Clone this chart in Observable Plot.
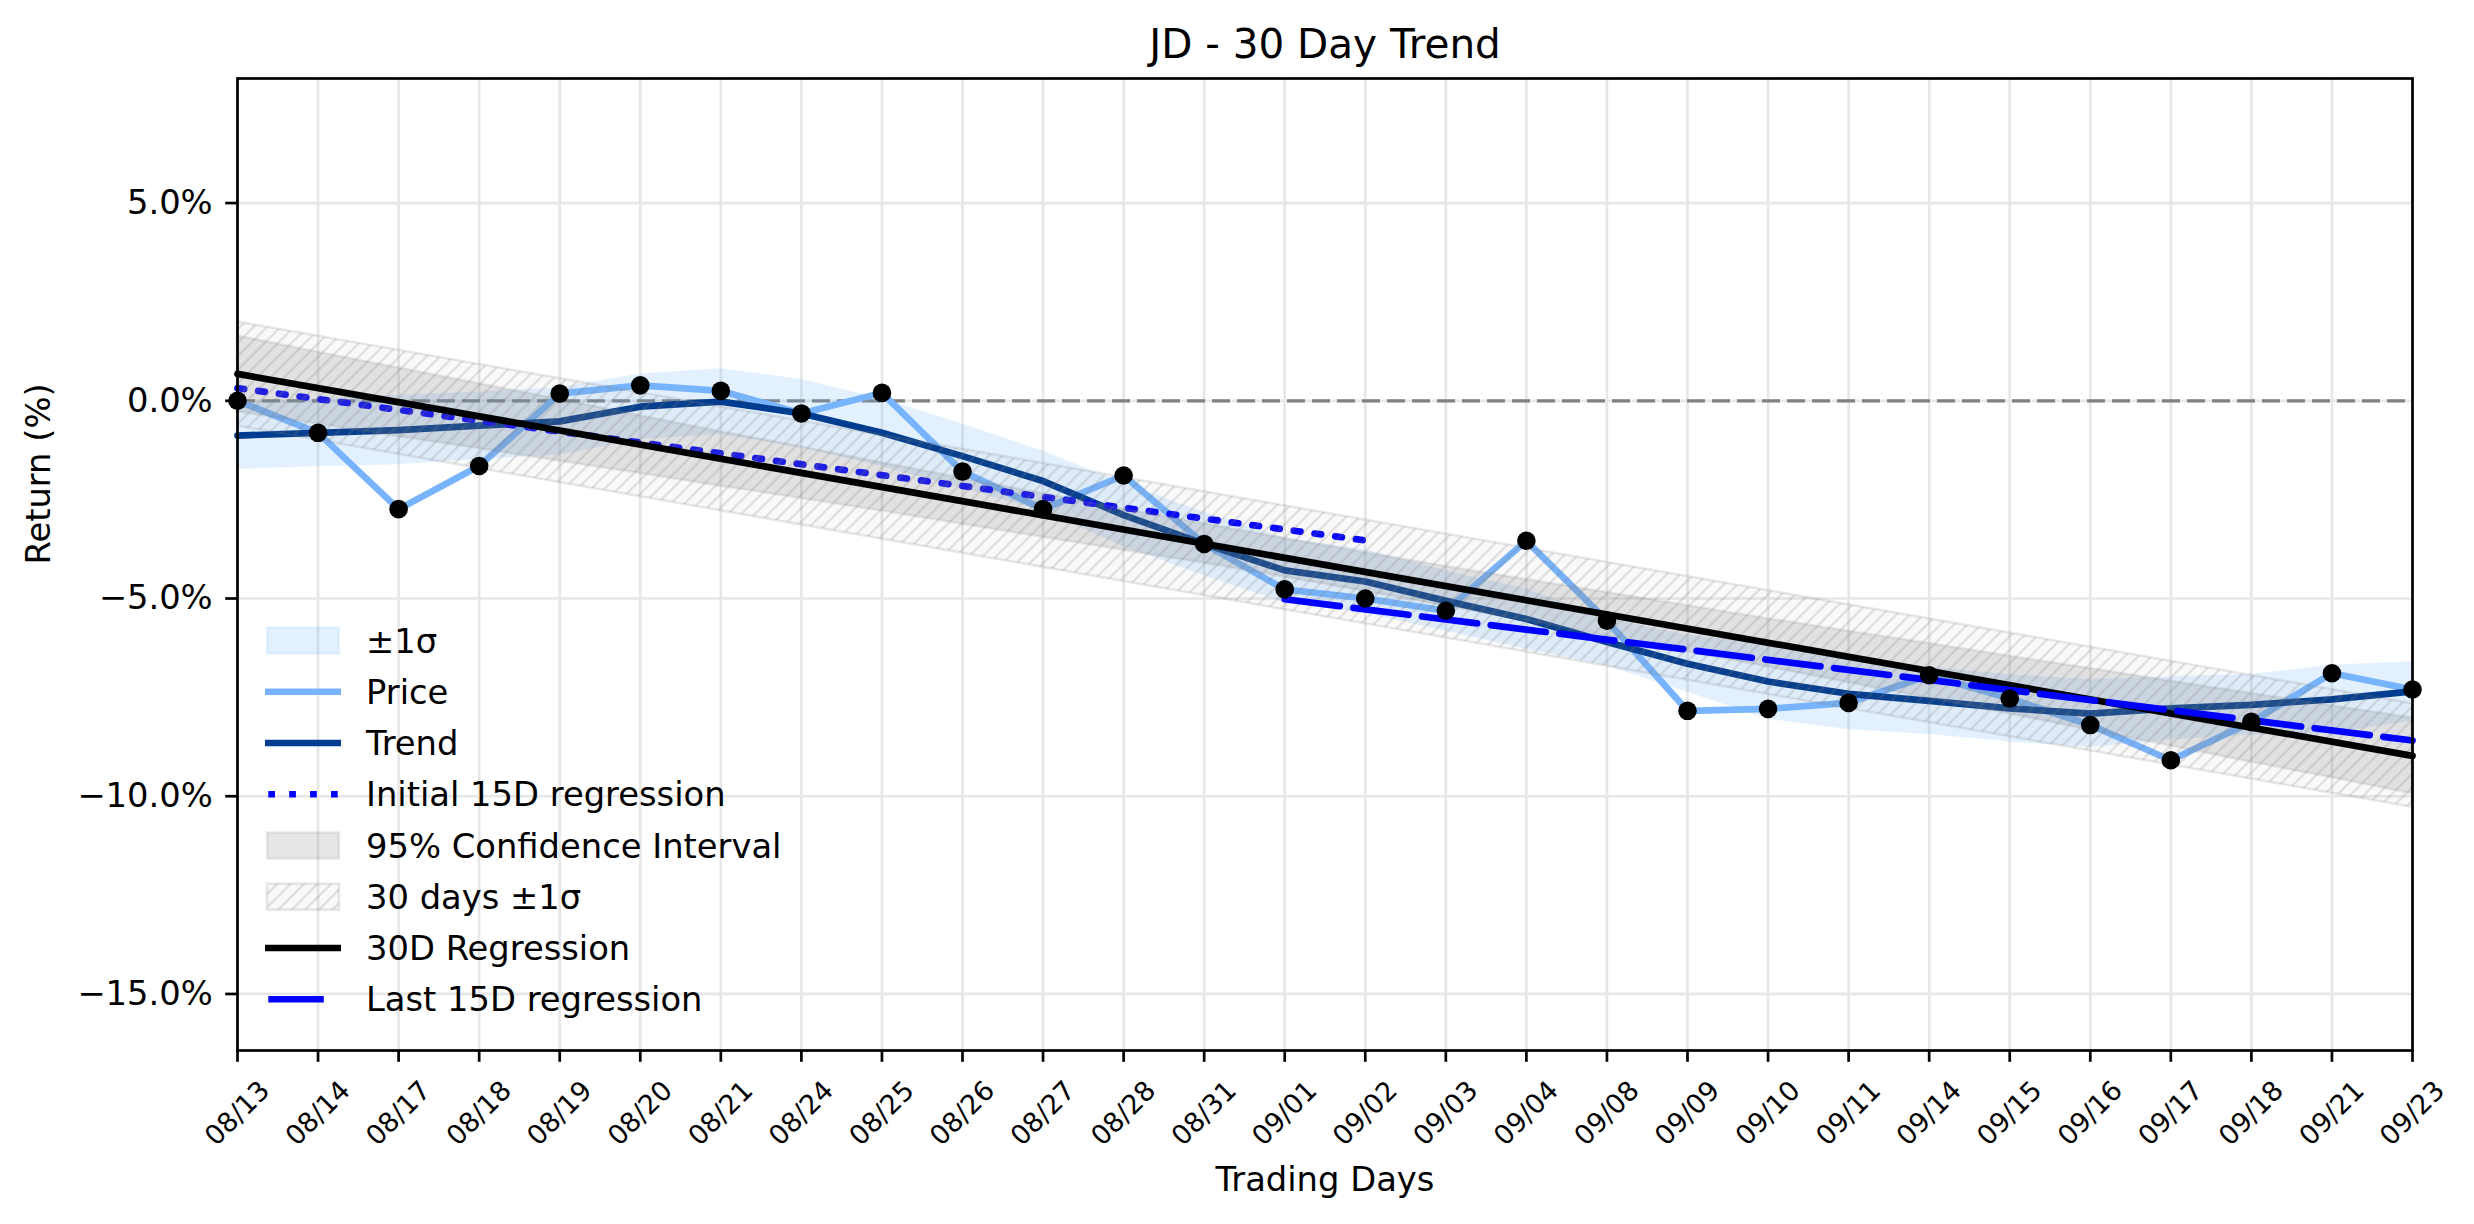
<!DOCTYPE html>
<html>
<head>
<meta charset="utf-8">
<script src="https://cdn.jsdelivr.net/npm/d3@7"></script>
<script src="https://cdn.jsdelivr.net/npm/@observablehq/plot@0.6"></script>
<style>
  html, body { margin: 0; padding: 0; background: white; }
  #chart svg { display: block; }
</style>
</head>
<body>
<div id="chart"></div>
<script>
// ---------- data ----------
const dates = ["08/13","08/14","08/17","08/18","08/19","08/20","08/21","08/24","08/25","08/26","08/27","08/28","08/31","09/01","09/02","09/03","09/04","09/08","09/09","09/10","09/11","09/14","09/15","09/16","09/17","09/18","09/21","09/23"];

const price = [0.00,-0.81,-2.74,-1.65,0.18,0.39,0.25,-0.32,0.20,-1.79,-2.74,-1.89,-3.62,-4.77,-5.00,-5.31,-3.54,-5.56,-7.84,-7.79,-7.64,-6.94,-7.53,-8.20,-9.09,-8.12,-6.89,-7.30];

const trend = [-0.88,-0.81,-0.74,-0.63,-0.52,-0.15,-0.02,-0.32,-0.81,-1.40,-2.03,-2.89,-3.62,-4.29,-4.57,-5.06,-5.52,-6.10,-6.65,-7.10,-7.41,-7.59,-7.78,-7.91,-7.78,-7.69,-7.55,-7.35];

// ±1σ band around the trend
const sigmaUpper = [-0.03,0.05,0.14,0.22,0.33,0.68,0.81,0.54,0.05,-0.59,-1.27,-2.09,-2.82,-3.47,-3.77,-4.30,-4.76,-5.50,-5.93,-6.15,-6.50,-6.74,-6.93,-7.05,-6.98,-6.92,-6.69,-6.60];
const sigmaLower = [-1.73,-1.67,-1.62,-1.48,-1.37,-0.98,-0.85,-1.18,-1.67,-2.21,-2.79,-3.69,-4.42,-5.11,-5.37,-5.82,-6.28,-6.70,-7.37,-8.05,-8.32,-8.44,-8.63,-8.77,-8.58,-8.46,-8.41,-8.10];

// 95% confidence interval of the 30D regression
const ciUpper = [1.64,1.23,0.83,0.43,0.03,-0.38,-0.78,-1.17,-1.57,-1.96,-2.35,-2.74,-3.11,-3.48,-3.84,-4.19,-4.52,-4.85,-5.18,-5.51,-5.83,-6.14,-6.46,-6.77,-7.09,-7.40,-7.71,-8.02];
const ciLower = [-0.28,-0.59,-0.91,-1.21,-1.53,-1.84,-2.16,-2.47,-2.79,-3.12,-3.45,-3.78,-4.11,-4.46,-4.82,-5.19,-5.56,-5.95,-6.34,-6.73,-7.13,-7.52,-7.92,-8.33,-8.73,-9.14,-9.53,-9.94];

// straight lines (end points)
const reg30X = [0, 27],  reg30Y = [0.68, -8.98];
const init15X = [0, 14], init15Y = [0.32, -3.53];
const last15X = [13, 27], last15Y = [-5.02, -8.59];
const band30X = [0, 27], band30Upper = [1.99, -7.66], band30Lower = [-0.64, -10.28];

const yTicks = [-15, -10, -5, 0, 5];
const yDomain = [-16.43, 8.15];

const legendLabels = ["±1σ","Price","Trend","Initial 15D regression","95% Confidence Interval","30 days ±1σ","30D Regression","Last 15D regression"];

// ---------- styling ----------
const C = {
  price: "#77b4fd",
  trend: "#003c8f",
  band: "#66b2ff",
  blue: "#0000ff",
  grid: "#e7e7e7",
  zero: "#808080"
};
const FONT = "DejaVu Sans";
const LW = 6.7;
const DOT = "6.7,14.2";
const DASH = "55.5,13.7";

// ---------- tables ----------
const idx = dates.map((d, i) => i);
const rows = idx.map(i => ({i, price: price[i], trend: trend[i], su: sigmaUpper[i], sl: sigmaLower[i], cu: ciUpper[i], cl: ciLower[i]}));
const reg30 = reg30X.map((x, k) => ({x, y: reg30Y[k]}));
const init15 = init15X.map((x, k) => ({x, y: init15Y[k]}));
const last15 = last15X.map((x, k) => ({x, y: last15Y[k]}));
const band30 = band30X.map((x, k) => ({x, u: band30Upper[k], l: band30Lower[k]}));

const fmt = d => (d < 0 ? "\u2212" : "") + Math.abs(d).toFixed(1) + "%";

const svg = Plot.plot({
  width: 2474,
  height: 1224,
  marginLeft: 237,
  marginRight: 62,
  marginTop: 78,
  marginBottom: 174,
  style: {fontFamily: FONT, background: "white", color: "black"},
  x: {domain: [0, 27]},
  y: {domain: yDomain},
  marks: [
    Plot.gridY(yTicks, {stroke: C.grid, strokeOpacity: 1, strokeWidth: 2.7}),
    Plot.gridX(idx, {stroke: C.grid, strokeOpacity: 1, strokeWidth: 2.7}),
    Plot.ruleY([0], {stroke: C.zero, strokeWidth: 3.2, strokeDasharray: "18,7"}),
    // ±1σ band
    Plot.areaY(rows, {x: "i", y1: "sl", y2: "su", fill: C.band, fillOpacity: 0.18}),
    // price & trend
    Plot.line(rows, {x: "i", y: "price", stroke: C.price, strokeWidth: LW}),
    Plot.line(rows, {x: "i", y: "trend", stroke: C.trend, strokeWidth: LW}),
    // initial 15D regression
    Plot.line(init15, {x: "x", y: "y", stroke: C.blue, strokeWidth: LW, strokeDasharray: DOT}),
    // 95% CI
    Plot.areaY(rows, {x: "i", y1: "cl", y2: "cu", fill: "#808080", fillOpacity: 0.2, stroke: "#808080", strokeOpacity: 0.15, strokeWidth: 2.5}),
    // 30 days ±1σ (hatched)
    Plot.areaY(band30, {x: "x", y1: "l", y2: "u", fill: "#808080", fillOpacity: 0.05, stroke: "#808080", strokeOpacity: 0.18, strokeWidth: 2.5}),
    Plot.areaY(band30, {x: "x", y1: "l", y2: "u", fill: "url(#hatch30)"}),
    // 30D regression
    Plot.line(reg30, {x: "x", y: "y", stroke: "black", strokeWidth: LW}),
    // last 15D regression
    Plot.line(last15, {x: "x", y: "y", stroke: C.blue, strokeWidth: LW, strokeDasharray: DASH}),
    // points
    Plot.dot(rows, {x: "i", y: "price", r: 9.3, fill: "black", stroke: "none"}),
    // axes
    Plot.axisY({ticks: yTicks, tickSize: 11.8, tickPadding: 13, tickFormat: fmt, fontSize: 33.75, strokeWidth: 2.7, label: null}),
    Plot.axisX({ticks: idx, tickSize: 11.8, tickFormat: () => "", strokeWidth: 2.7, label: null}),
    Plot.text(idx, {x: d => d, text: d => dates[d], frameAnchor: "bottom", dy: 63, rotate: -45, textAnchor: "middle", lineAnchor: "middle", fontSize: 27}),
    Plot.frame({stroke: "black", strokeWidth: 2.7}),
    // titles
    Plot.text(["JD - 30 Day Trend"], {frameAnchor: "top", dy: -21, lineAnchor: "bottom", fontSize: 40.5}),
    Plot.text(["Trading Days"], {frameAnchor: "bottom", dy: 140, lineAnchor: "bottom", fontSize: 33.75}),
    Plot.text(["Return (%)"], {frameAnchor: "left", dx: -198, rotate: -90, lineAnchor: "middle", fontSize: 33.75})
  ]
});

document.getElementById("chart").appendChild(svg);

// hatch pattern
const s = 13.5;
const defs = d3.select(svg).insert("defs", ":first-child");
const pat = defs.append("pattern")
  .attr("id", "hatch30").attr("patternUnits", "userSpaceOnUse")
  .attr("width", s).attr("height", s);
pat.append("path")
  .attr("d", `M0,${s} L${s},0 M${-s/4},${s/4} L${s/4},${-s/4} M${s*3/4},${s*5/4} L${s*5/4},${s*3/4}`)
  .attr("stroke", "#808080").attr("stroke-opacity", 0.23).attr("stroke-width", 2.1).attr("fill", "none");

// legend (inside the plot area, lower left)
const lg = d3.select(svg).append("g")
  .attr("font-family", FONT).attr("font-size", 33.75).attr("text-anchor", "start");
const y0 = 640.5, step = 51.25, hx0 = 265, hx1 = 341, tx = 366;
legendLabels.forEach((lab, k) => {
  const y = y0 + k * step;
  const rect = () => lg.append("rect").attr("x", 267).attr("y", y - 13).attr("width", 72).attr("height", 26).attr("stroke-width", 2.7);
  const line = () => lg.append("line").attr("x1", hx0).attr("x2", hx1).attr("y1", y).attr("y2", y).attr("stroke-width", LW);
  if (k === 0) {
    rect().attr("fill", C.band).attr("fill-opacity", 0.18).attr("stroke", C.band).attr("stroke-opacity", 0.12);
  } else if (k === 1) {
    line().attr("stroke", C.price);
  } else if (k === 2) {
    line().attr("stroke", C.trend);
  } else if (k === 3) {
    line().attr("x1", 268.3).attr("stroke", C.blue).attr("stroke-dasharray", DOT);
  } else if (k === 4) {
    rect().attr("fill", "#808080").attr("fill-opacity", 0.2).attr("stroke", "#808080").attr("stroke-opacity", 0.15);
  } else if (k === 5) {
    rect().attr("fill", "#808080").attr("fill-opacity", 0.05).attr("stroke", "#808080").attr("stroke-opacity", 0.18);
    lg.append("rect").attr("x", 267).attr("y", y - 13).attr("width", 72).attr("height", 26).attr("fill", "url(#hatch30)");
  } else if (k === 6) {
    line().attr("stroke", "black");
  } else if (k === 7) {
    line().attr("x1", 268.3).attr("x2", 323.8).attr("stroke", C.blue);
  }
  lg.append("text").attr("x", tx).attr("y", y).attr("dy", "0.36em").attr("fill", "black").text(lab);
});
</script>
</body>
</html>
